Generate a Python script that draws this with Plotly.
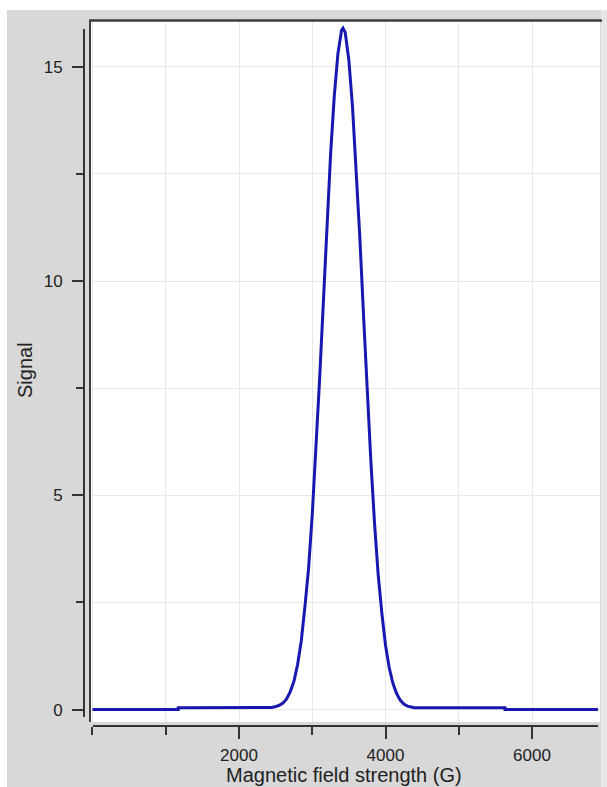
import plotly.graph_objects as go

# ---- data ----
field = [0, 1170, 1171, 2400, 2450, 2500, 2550, 2600, 2650, 2700, 2750, 2800, 2850, 2900,
         2950, 3000, 3050, 3100, 3150, 3200, 3250, 3300, 3350, 3400, 3420, 3450, 3500,
         3550, 3600, 3650, 3700, 3750, 3800, 3850, 3900, 3950, 4000, 4050, 4100, 4150,
         4200, 4250, 4300, 4350, 4400, 5630, 5631, 6900]
signal = [0.0, 0.0, 0.04, 0.04, 0.05, 0.07, 0.10, 0.15, 0.25, 0.42, 0.66, 1.05, 1.60, 2.40,
          3.30, 4.55, 6.05, 7.70, 9.45, 11.20, 12.95, 14.30, 15.30, 15.85, 15.90, 15.80, 15.15,
          14.05, 12.65, 11.00, 9.20, 7.45, 5.80, 4.35, 3.15, 2.25, 1.50, 0.98, 0.62, 0.38,
          0.22, 0.13, 0.08, 0.06, 0.04, 0.04, 0.0, 0.0]

x_major = [2000, 4000, 6000]
x_minor = [0, 1000, 3000, 5000]
y_major = [0, 5, 10, 15]
y_minor = [2.5, 7.5, 12.5]

x_title = "Magnetic field strength (G)"
y_title = "Signal"

# ---- layout geometry (pixels) ----
W, H = 607, 787
ML, MR, MT, MB = 84, 7, 20, 61
PW = W - ML - MR   # 516
PH = H - MT - MB   # 706


def px(xp):
    return (xp - ML) / PW


def py(yp):
    return (H - MB - yp) / PH


fig = go.Figure()
fig.add_trace(go.Scatter(x=field, y=signal, mode="lines",
                         line=dict(color="rgb(24,24,176)", width=3),
                         hoverinfo="skip", showlegend=False))

font_fam = "Liberation Sans, Arial, sans-serif"
grid_c = "#e8e8e8"
axis_c = "#333333"

fig.update_layout(
    width=W, height=H, autosize=False,
    margin=dict(l=ML, r=MR, t=MT, b=MB, pad=0),
    paper_bgcolor="#d8d8d8",
    plot_bgcolor="white",
    font=dict(family=font_fam, color="#222222"),
    xaxis=dict(
        domain=[px(90), 1], anchor="free", position=0,
        range=[-34, 6928], showline=False, zeroline=False,
        tickmode="array", tickvals=x_major, ticktext=[str(v) for v in x_major],
        ticks="outside", ticklen=12, tickwidth=2, tickcolor=axis_c,
        tickfont=dict(size=17, family=font_fam, color="#222222"),
        ticklabelstandoff=2,
        showgrid=True, gridcolor=grid_c, gridwidth=1,
        minor=dict(tickmode="array", tickvals=x_minor, ticks="outside", ticklen=8,
                   tickwidth=2, tickcolor=axis_c, showgrid=True, gridcolor=grid_c,
                   gridwidth=1),
    ),
    yaxis=dict(
        domain=[py(722), 1], anchor="free", position=0,
        range=[-0.29, 16.09], showline=False, zeroline=False,
        tickmode="array", tickvals=y_major, ticktext=[str(v) for v in y_major],
        ticks="outside", ticklen=12, tickwidth=2, tickcolor=axis_c,
        tickfont=dict(size=17, family=font_fam, color="#222222"),
        ticklabelstandoff=6,
        showgrid=True, gridcolor=grid_c, gridwidth=1,
        minor=dict(tickmode="array", tickvals=y_minor, ticks="outside", ticklen=8,
                   tickwidth=2, tickcolor=axis_c, showgrid=True, gridcolor=grid_c,
                   gridwidth=1),
    ),
)

shapes = [
    # white strip on the left edge
    dict(type="rect", xref="paper", yref="paper", layer="below",
         x0=px(0), x1=px(7), y0=py(H), y1=py(0),
         fillcolor="white", line=dict(width=0)),
    # white strip on the top edge
    dict(type="rect", xref="paper", yref="paper", layer="below",
         x0=px(0), x1=px(W), y0=py(10), y1=py(0),
         fillcolor="white", line=dict(width=0)),
    # light strip on the right edge
    dict(type="rect", xref="paper", yref="paper", layer="below",
         x0=px(601), x1=px(W), y0=py(H), y1=py(10),
         fillcolor="#e6e6e6", line=dict(width=0)),
    # top border of plot area
    dict(type="line", xref="paper", yref="paper", layer="above",
         x0=px(89), x1=px(602), y0=py(20.5), y1=py(20.5),
         line=dict(color="#3c3c3c", width=2.5)),
    # left border of plot area
    dict(type="line", xref="paper", yref="paper", layer="above",
         x0=px(90), x1=px(90), y0=py(722), y1=py(20),
         line=dict(color="#3c3c3c", width=2)),
    # y axis line
    dict(type="line", xref="paper", yref="paper", layer="above",
         x0=px(84), x1=px(84), y0=py(717), y1=py(29),
         line=dict(color=axis_c, width=2)),
    # x axis line
    dict(type="line", xref="paper", yref="paper", layer="above",
         x0=px(93), x1=px(598), y0=py(726), y1=py(726),
         line=dict(color=axis_c, width=2)),
]
fig.update_layout(shapes=shapes)

fig.add_annotation(text=x_title, xref="paper", yref="paper",
                   x=px(344), y=py(775), xanchor="center", yanchor="middle",
                   showarrow=False, font=dict(size=20, family=font_fam, color="#222222"))
fig.add_annotation(text=y_title, xref="paper", yref="paper",
                   x=px(25), y=py(370), xanchor="center", yanchor="middle",
                   textangle=-90, showarrow=False,
                   font=dict(size=20, family=font_fam, color="#222222"))

fig.write_html("out.html")
